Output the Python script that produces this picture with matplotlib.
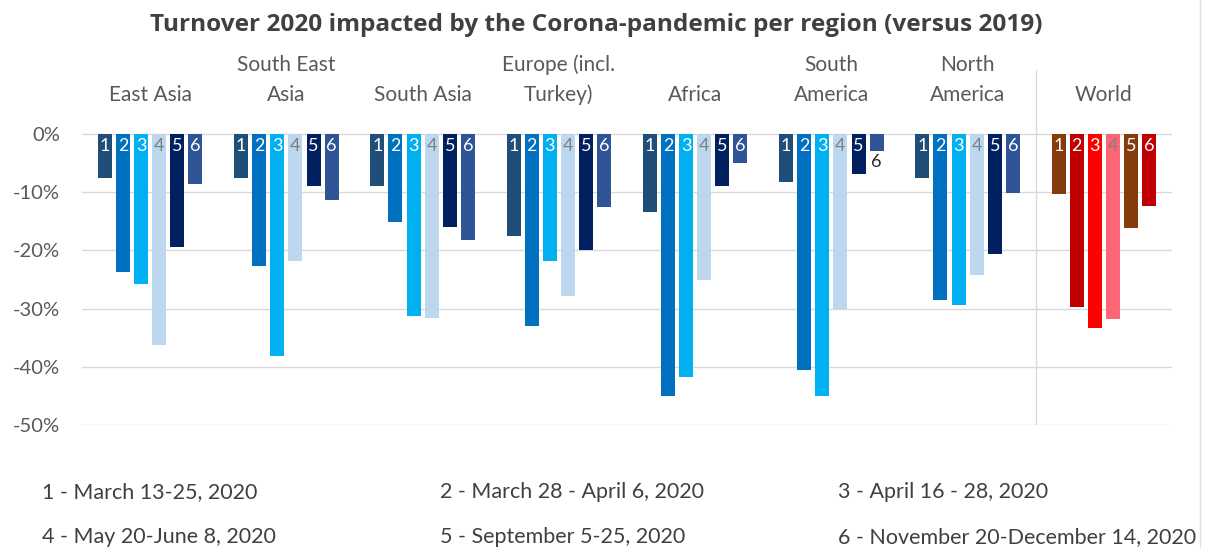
import matplotlib.pyplot as plt
import numpy as np

plt.rcParams['font.family'] = ['Lato', 'DejaVu Sans']

regions = ["East Asia", "South East\nAsia", "South Asia", "Europe (incl.\nTurkey)",
           "Africa", "South\nAmerica", "North\nAmerica", "World"]

# turnover change per period (fraction vs 2019), one list per region
east_asia = [-0.075, -0.237, -0.258, -0.363, -0.195, -0.086]
se_asia = [-0.075, -0.227, -0.381, -0.219, -0.089, -0.113]
south_asia = [-0.089, -0.152, -0.313, -0.316, -0.159, -0.183]
europe = [-0.176, -0.330, -0.218, -0.278, -0.199, -0.125]
africa = [-0.134, -0.451, -0.417, -0.251, -0.090, -0.049]
south_america = [-0.083, -0.405, -0.451, -0.301, -0.069, -0.030]
north_america = [-0.075, -0.286, -0.294, -0.242, -0.207, -0.101]
world = [-0.103, -0.298, -0.334, -0.318, -0.162, -0.123]

periods = ["1 - March 13-25, 2020", "2 - March 28 - April 6, 2020", "3 - April 16 - 28, 2020",
           "4 - May 20-June 8, 2020", "5 - September 5-25, 2020", "6 - November 20-December 14, 2020"]

blues = ["#1F4E79", "#0070C0", "#00B0F0", "#BDD7EE", "#002060", "#2F5597"]
reds = ["#843C0C", "#C00000", "#FF0000", "#FF6675", "#843C0C", "#C00000"]
num_colors = ["white", "white", "white", "#7F7F7F", "white", "white"]

data = [east_asia, se_asia, south_asia, europe, africa, south_america, north_america, world]

fig = plt.figure(figsize=(12.15, 5.48), dpi=100)
ax = fig.add_axes([0.0675, 0.2245, 0.8971, 0.6478])

pitch = 0.133
width = 0.103
for g, vals in enumerate(data):
    cols = reds if g == 7 else blues
    for i, v in enumerate(vals):
        x = g + (i - 2.5) * pitch
        ax.bar(x, v, width=width, color=cols[i], zorder=2)
        if v > -0.04:
            ax.text(x, v - 0.004, str(i + 1), ha='center', va='top', fontsize=13,
                    color='#262626', zorder=3)
        else:
            ax.text(x, -0.0205, str(i + 1), ha='center', va='center', fontsize=13,
                    color=num_colors[i], zorder=3)
    # region name, one line at a time (bottom line sits lowest)
    lines = regions[g].split("\n")
    for j, line in enumerate(reversed(lines)):
        ax.text(g, 0.067 + j * 0.0515, line, ha='center', va='center', fontsize=15,
                color='#595959')

ax.set_xlim(-0.5, 7.5)
ax.set_ylim(-0.5, 0.11)
ax.set_yticks([0, -0.1, -0.2, -0.3, -0.4, -0.5])
ax.set_yticklabels(["0%", "-10%", "-20%", "-30%", "-40%", "-50%"])
ax.set_xticks([])
ax.tick_params(axis='y', length=0, labelsize=14.5, labelcolor='#595959', pad=16)
for s in ax.spines.values():
    s.set_visible(False)
for yv in [0, -0.1, -0.2, -0.3, -0.4, -0.5]:
    ax.axhline(yv, color='#D9D9D9', lw=1, zorder=1)
ax.axvline(6.5, color='#D9D9D9', lw=1, zorder=1)

fig.text(0.491, 0.955, "Turnover 2020 impacted by the Corona-pandemic per region (versus 2019)",
         ha='center', va='center', fontsize=17.6, fontweight='bold', color='#404040',
         family=['Open Sans', 'DejaVu Sans'])

leg_x = [42, 440, 838]
leg_y = [492, 537]
for k, lab in enumerate(periods):
    fig.text(leg_x[k % 3] / 1215, 1 - leg_y[k // 3] / 548, lab, ha='left', va='center',
             fontsize=15.5, color='#404040')

fig.add_artist(plt.Line2D([1200 / 1215, 1200 / 1215], [0, 1], color='#E0E0E0', lw=1))

fig.savefig("out.png", dpi=100)
